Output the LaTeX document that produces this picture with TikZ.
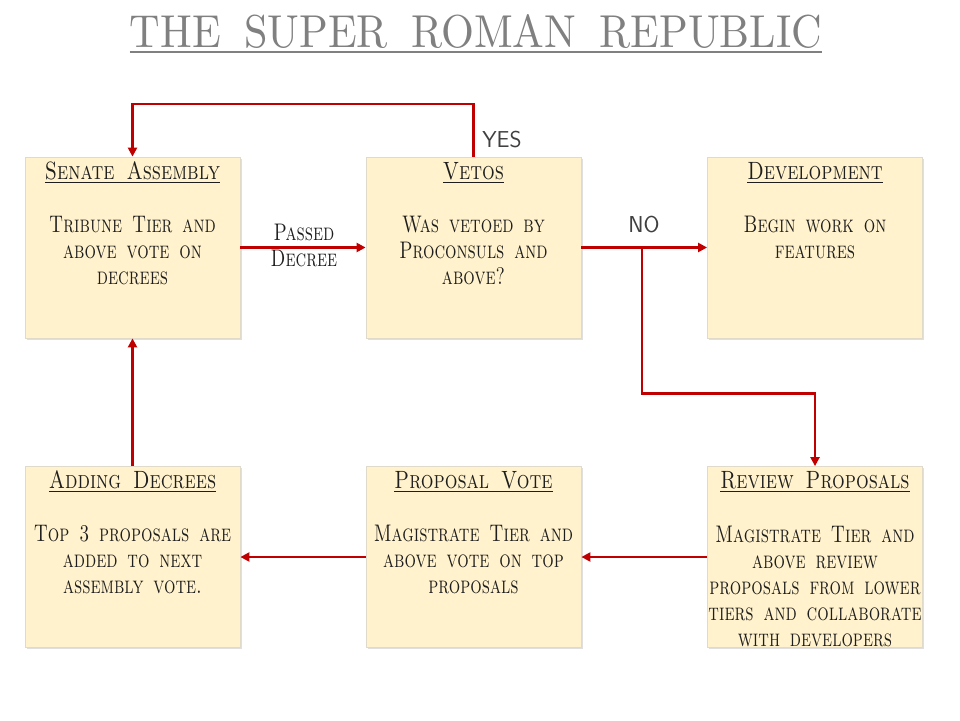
\documentclass[tikz,border=0pt]{standalone}
\usepackage{graphicx}
\usetikzlibrary{arrows.meta,shadows}
\definecolor{boxfill}{HTML}{FFF2CC}
\definecolor{boxline}{HTML}{E0DACB}
\definecolor{arrowred}{HTML}{C00000}
\definecolor{titlegray}{HTML}{808080}
\definecolor{textdark}{HTML}{1E1E1E}
\newcommand{\bodytext}[1]{\scalebox{0.75}[1]{\fontsize{24}{26}\selectfont\scshape\spaceskip=0.55em plus 0.2em\begin{tabular}[t]{@{}c@{}}#1\end{tabular}}}
\newcommand{\thickuline}[1]{\vtop{\hbox{#1}\kern2.2pt\hrule height 1.6pt}}
\newcommand{\headtext}[1]{\scalebox{0.8}[1]{\fontsize{25}{26}\selectfont\scshape\thickuline{#1}}}
\tikzset{
  panel/.style={draw=boxline, line width=0.8pt, fill=boxfill, minimum width=215pt, minimum height=181pt, inner sep=0pt,
    drop shadow={shadow xshift=1.5pt, shadow yshift=-1.5pt, opacity=0.25, fill=black!50}},
  conn/.style={draw=arrowred, line width=2.2pt, -{Triangle[length=9pt,width=9pt]}},
  txt/.style={anchor=base, inner sep=0pt, text=textdark},
  lbl/.style={anchor=base, inner sep=0pt, text=textdark!85, font=\sffamily\fontsize{23}{25}\selectfont}
}
\begin{document}
\begin{tikzpicture}[x=1pt,y=-1pt]
\useasboundingbox (0,0) rectangle (960,720);
\fill[white] (0,0) rectangle (960,720);
% title
\node[anchor=base, inner sep=0pt, text=titlegray] (title) at (476,47)
  {\resizebox{692pt}{33pt}{THE\hspace{0.55em}SUPER\hspace{0.55em}ROMAN\hspace{0.55em}REPUBLIC}};
\draw[titlegray, line width=2pt] (title.south west) ++(0,4) coordinate (ulA) -- (ulA -| title.south east);
% boxes
\node[panel] (senate) at (132.5,247.5) {};
\node[panel] (vetos) at (473.5,247.5) {};
\node[panel] (dev) at (815,247.5) {};
\node[panel] (adding) at (132.5,557) {};
\node[panel] (propvote) at (473.5,557) {};
\node[panel] (review) at (815,557) {};
% headings
\node[txt] (senateh) at (132.5,179) {\headtext{Senate\hspace{0.6em}Assembly}};
\node[txt] (vetosh) at (473.5,179) {\headtext{Vetos}};
\node[txt] (devh) at (815,179) {\headtext{Development}};
\node[txt] (addingh) at (132.5,488) {\headtext{Adding\hspace{0.6em}Decrees}};
\node[txt] (propvoteh) at (473.5,488) {\headtext{Proposal\hspace{0.6em}Vote}};
\node[txt] (reviewh) at (815,488) {\headtext{Review\hspace{0.6em}Proposals}};
% bodies
\node[txt] (senateb) at (132.5,232) {\bodytext{Tribune Tier and\\above vote on\\decrees}};
\node[txt] (vetosb) at (473.5,232) {\bodytext{Was vetoed by\\Proconsuls and\\above?}};
\node[txt] (devb) at (815,232) {\bodytext{Begin work on\\features}};
\node[txt] (addingb) at (132.5,541) {\bodytext{Top 3 proposals are\\added to next\\assembly vote.}};
\node[txt] (propvoteb) at (473.5,541) {\bodytext{Magistrate Tier and\\above vote on top\\proposals}};
\node[txt] (reviewb) at (815,542) {\bodytext{Magistrate Tier and\\above review\\proposals from lower\\tiers and collaborate\\with developers}};
% labels
\node[txt] (passed) at (304,240) {\bodytext{Passed\\Decree}};
\node[lbl] (yes) at (502,147) {YES};
\node[lbl] (no) at (644,232) {NO};
% connectors
\draw[conn] (vetos.north) -- ++(0,-53) -| (senate.north);
\draw[conn] (senate) -- (vetos);
\draw[conn] (vetos) -- (dev);
\coordinate (split) at (642,247.5);
\draw[conn] (split) -- ++(0,146) -| (review.north);
\draw[conn] (review) -- (propvote);
\draw[conn] (propvote) -- (adding);
\draw[conn] (adding) -- (senate);
\end{tikzpicture}
\end{document}
